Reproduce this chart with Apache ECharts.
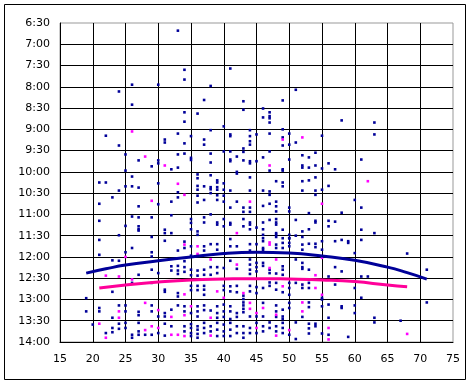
<!DOCTYPE html>
<html>
<head>
<meta charset="utf-8">
<script src="https://cdn.jsdelivr.net/npm/echarts@6/dist/echarts.min.js"></script>
<style>
html,body{margin:0;padding:0;background:#fff;}
#chart{width:476px;height:385px;}
</style>
</head>
<body>
<div id="chart"></div>
<script>
// x ticks (age) and y ticks (time of day, hours)
const xTicks = [15, 20, 25, 30, 35, 40, 45, 50, 55, 60, 65, 70, 75];
const yTickLabels = ["6:30","7:00","7:30","8:00","8:30","9:00","9:30","10:00","10:30","11:00","11:30","12:00","12:30","13:00","13:30","14:00"];

// blue points [x, time in hours]
const bluePoints = [
[33,6.68],[34,7.6],[41,7.57],[34,7.83],[26,7.95],[30,7.95],[38,7.98],[24,8.11],[37,8.31],[43,8.34],[26,8.42],[43,8.54],[34,8.6],[36,8.63],[34,8.82],[40,8.93],[38,9.02],[44,9.02],[22,9.15],[33,9.1],[35,9.16],[41,9.12],[41,9.16],[45,9.12],[44,9.16],[31,9.24],[31,9.31],[37,9.24],[34,9.33],[37,9.36],[44,9.28],[44,9.36],[24,9.38],[43,9.45],[40,9.52],[41,9.52],[43,9.53],[38,9.57],[33,9.59],[34,9.57],[25,9.59],[35,9.67],[35,9.72],[42,9.64],[41,9.71],[41,9.75],[43,9.73],[44,9.75],[44,9.8],[45,9.75],[27,9.73],[30,9.73],[30,9.8],[38,9.78],[29,9.87],[33,9.9],[32,9.94],[25,9.97],[42,10.0],[42,10.04],[36,10.06],[36,10.15],[38,10.08],[26,10.11],[44,10.13],[39,10.2],[39,10.25],[21,10.25],[22,10.25],[30,10.27],[40,10.27],
[51,8.07],[49,8.32],[46,8.51],[47,8.6],[46,8.72],[47,8.69],[47,8.74],[47,8.84],[58,8.79],[63,8.84],[63,9.12],[49,9.0],[47,9.1],[50,9.1],[49,9.19],[55,9.15],[49,9.38],[50,9.36],[51,9.31],[47,9.52],[46,9.66],[52,9.61],[53,9.66],[54,9.55],[50,9.71],[47,9.97],[49,9.94],[49,9.97],[52,9.85],[52,9.9],[53,9.9],[54,9.85],[55,9.92],[56,9.8],[57,9.94],[61,9.71],[54,10.13],[48,10.22],[49,10.25],[52,10.22],[53,10.2],
[25,10.34],[26,10.34],[27,10.37],[24,10.44],[36,10.33],[36,10.42],[37,10.34],[38,10.36],[38,10.41],[39,10.36],[39,10.42],[40,10.42],[40,10.56],[41,10.44],[44,10.44],[33,10.48],[23,10.6],[36,10.56],[37,10.66],[38,10.5],[39,10.55],[39,10.66],[30,10.76],[32,10.7],[33,10.6],[36,10.72],[40,10.7],[42,10.7],[44,10.84],[44,10.94],[43,10.84],[41,10.84],[21,10.75],[27,10.81],[43,10.94],
[21,11.15],[26,11.05],[27,11.07],[27,11.28],[27,11.35],[27,11.38],[25,11.27],[24,11.49],[29,11.07],[31,11.36],[31,11.44],[32,11.02],[32,11.44],[35,11.11],[35,11.2],[35,11.35],[36,11.4],[36,11.48],[37,11.07],[37,11.19],[38,11.0],[39,11.19],[39,11.24],[40,11.11],[40,11.28],[41,11.2],[41,11.24],[43,11.11],[43,11.28],[44,11.19],[44,11.24],[44,11.35],[45,11.31],
[21,11.6],[21,11.95],[25,11.89],[26,11.79],[29,11.53],[29,11.89],[29,11.99],[31,11.62],[33,11.85],[34,11.64],[34,11.79],[35,11.75],[35,11.97],[37,11.75],[37,11.85],[38,11.7],[39,11.7],[39,11.83],[41,11.58],[41,11.75],[42,11.75],[44,11.7],[44,11.85],[45,11.7],
[23,12.08],[24,12.09],[27,12.42],[29,12.3],[30,12.38],[32,12.22],[32,12.32],[33,12.21],[33,12.32],[33,12.4],[34,12.1],[34,12.24],[34,12.35],[35,12.3],[35,12.43],[36,12.32],[36,12.44],[37,12.3],[37,12.42],[38,12.24],[38,12.42],[39,12.24],[39,12.38],[40,12.26],[41,12.09],[42,12.28],[44,12.06],[44,12.18],[44,12.3],[44,12.4],[45,12.14],[45,12.24],[45,12.34],
[26,12.61],[23,12.82],[29,12.61],[31,12.77],[31,12.82],[33,12.85],[33,12.93],[35,12.68],[35,12.78],[36,12.68],[36,12.78],[37,12.68],[37,12.77],[37,12.89],[40,12.68],[40,12.78],[41,12.69],[41,12.81],[42,12.68],[42,12.83],[43,12.91],[43,12.99],[44,12.68],[44,12.81],[45,12.71],[45,12.85],[19,12.97],
[19,13.28],[21,13.2],[21,13.28],[24,13.14],[23,13.43],[25,13.14],[25,13.28],[27,13.29],[27,13.37],[29,13.14],[29,13.28],[30,13.4],[31,13.32],[31,13.4],[32,13.24],[33,13.14],[34,13.16],[34,13.28],[35,13.32],[36,13.16],[36,13.28],[36,13.4],[37,13.14],[37,13.25],[38,13.26],[39,13.16],[39,13.32],[39,13.43],[40,13.12],[40,13.28],[40,13.41],[41,13.16],[41,13.28],[41,13.46],[42,13.32],[42,13.41],[43,13.07],[43,13.14],[43,13.22],[43,13.3],[44,13.4],[45,13.4],
[20,13.59],[22,13.79],[23,13.67],[23,13.77],[24,13.57],[24,13.69],[25,13.55],[25,13.67],[26,13.83],[26,13.9],[27,13.55],[27,13.75],[27,13.83],[28,13.83],[29,13.83],[30,13.79],[31,13.57],[31,13.85],[32,13.63],[34,13.63],[34,13.75],[35,13.58],[35,13.67],[35,13.79],[35,13.86],[36,13.63],[36,13.71],[36,13.81],[36,13.9],[37,13.55],[37,13.67],[37,13.79],[38,13.63],[38,13.75],[39,13.55],[39,13.71],[39,13.86],[40,13.59],[40,13.75],[40,13.86],[41,13.55],[41,13.71],[41,13.86],[42,13.63],[42,13.79],[43,13.63],[43,13.79],[43,13.9],[44,13.67],[44,13.79],[45,13.55],[45,13.79],
[46,10.44],[47,10.46],[47,10.54],[49,10.34],[52,10.44],[54,10.44],[54,10.54],[55,10.42],[56,10.33],[48,10.7],[48,10.81],[47,10.75],[46,10.8],[50,10.84],[50,10.93],[53,10.97],[58,10.96],[60,10.66],[61,10.84],[48,10.93],
[46,11.19],[47,11.13],[48,11.11],[48,11.19],[48,11.24],[51,11.13],[52,11.4],[53,11.35],[54,11.15],[54,11.19],[56,11.15],[56,11.28],[57,11.17],[46,11.35],[46,11.48],[46,11.56],[48,11.44],[48,11.48],[49,11.36],[50,11.48],[50,11.56],[51,11.5],
[46,11.63],[48,11.53],[48,11.71],[49,11.56],[49,11.67],[49,11.79],[50,11.56],[50,11.67],[50,11.75],[52,11.53],[52,11.71],[52,11.83],[53,11.69],[54,11.69],[54,11.77],[55,11.63],[55,11.83],[57,11.63],[58,11.6],[59,11.63],[59,11.67],[61,11.36],[61,11.6],[63,11.44],[68,11.92],[46,11.79],[46,11.83],[48,11.79],
[46,12.14],[46,12.21],[47,12.3],[47,12.38],[48,12.39],[49,12.22],[49,12.3],[49,12.42],[51,12.06],[52,12.14],[52,12.24],[52,12.28],[53,12.3],[56,12.46],[57,12.24],[58,12.34],[61,12.46],[62,12.46],[71,12.3],[60,11.91],
[47,12.6],[47,12.68],[46,12.73],[48,12.61],[48,12.77],[49,12.83],[50,12.61],[50,12.73],[50,12.89],[51,12.61],[52,12.65],[52,12.73],[53,12.61],[53,12.73],[55,12.96],[57,12.65],[60,12.73],[61,12.96],[71,13.07],
[46,13.08],[48,13.14],[48,13.28],[48,13.41],[49,13.24],[49,13.4],[49,13.46],[50,13.08],[50,13.2],[52,13.41],[53,13.07],[53,13.18],[55,13.0],[55,13.16],[56,13.12],[56,13.43],[58,13.16],[58,13.2],[60,13.14],[60,13.32],[63,13.43],[46,13.4],
[46,13.63],[46,13.75],[47,13.54],[47,13.67],[48,13.63],[48,13.75],[49,13.55],[49,13.67],[49,13.79],[50,13.83],[51,13.54],[51,13.93],[53,13.57],[53,13.68],[53,13.8],[54,13.57],[54,13.63],[55,13.8],[56,13.83],[59,13.88],[63,13.54],[67,13.5]
];

// magenta points [x, time in hours]
const magentaPoints = [
[26,9.05],[28,9.64],[31,9.85],[33,10.28],
[49,9.24],[52,9.19],[47,9.85],[62,10.22],
[34,10.54],[29,10.68],[44,10.7],[42,11.44],[25,12.0],[34,11.71],[36,11.75],[36,11.93],[22,12.44],[24,12.46],[38,12.06],[42,12.18],[26,12.53],[34,12.88],[39,12.81],[40,12.96],[43,12.85],[24,13.28],[24,13.43],[28,13.08],[30,13.25],[32,13.41],[34,13.37],[35,13.16],[38,13.43],[44,13.08],[44,13.22],[45,13.32],[21,13.57],[22,13.9],[28,13.72],[29,13.63],[30,13.67],[32,13.83],[33,13.83],[34,13.86],[38,13.85],[45,13.67],
[55,10.75],[48,12.06],[47,12.26],[54,12.43],[55,12.02],[49,12.69],[54,12.73],[55,12.89],[46,13.2],[48,13.36],[52,13.07],[52,13.28],[48,13.85],[50,13.72],[56,13.67],[56,13.94],[68,13.81],[47,11.66],[47,11.71]
];

// trend curves
const blueTrend = [[19,12.38],[22,12.28],[25,12.19],[30,12.09],[35,12.0],[40,11.92],[45,11.89],[50,11.91],[55,11.98],[60,12.08],[65,12.24],[68,12.37],[71,12.52]];
const magentaTrend = [[21,12.73],[25,12.66],[30,12.59],[35,12.54],[40,12.52],[45,12.51],[50,12.52],[55,12.54],[60,12.58],[65,12.66],[68,12.70]];

const FONT = "DejaVu Sans";
const xMin = xTicks[0], xMax = xTicks[xTicks.length - 1];
const yMin = 6.5, yMax = 14;

const chart = echarts.init(document.getElementById('chart'), null, {renderer: 'canvas'});
chart.setOption({
  backgroundColor: '#ffffff',
  animation: false,
  graphic: [{
    type: 'rect', z: -1,
    shape: {x: 4.5, y: 4.5, width: 461, height: 375},
    style: {fill: 'none', stroke: '#000', lineWidth: 1}
  }],
  grid: {left: 60, right: 23, top: 23, bottom: 43, containLabel: false,
         show: true, borderColor: '#999999', borderWidth: 1, backgroundColor: 'transparent'},
  xAxis: {
    type: 'value', min: xMin, max: xMax, interval: 5,
    axisLine: {show: true, onZero: false, lineStyle: {color: '#000', width: 1}},
    axisTick: {show: false},
    axisLabel: {color: '#000', fontFamily: FONT, fontSize: 11, margin: 12},
    splitLine: {show: true, showMaxLine: false, showMinLine: false, lineStyle: {color: '#000000', width: 1, opacity: 1}}
  },
  yAxis: {
    type: 'value', min: yMin, max: yMax, interval: 0.5, inverse: true,
    axisLine: {show: true, onZero: false, lineStyle: {color: '#000', width: 1}},
    axisTick: {show: false},
    axisLabel: {
      color: '#000', fontFamily: FONT, fontSize: 11, margin: 10,
      formatter: v => yTickLabels[Math.round((v - yMin) / 0.5)]
    },
    splitLine: {show: true, showMinLine: false, showMaxLine: false, lineStyle: {color: '#000000', width: 1, opacity: 1}}
  },
  series: [
    {type: 'scatter', data: bluePoints, symbol: 'rect', symbolSize: 2.6, itemStyle: {color: '#000099', opacity: 1}, z: 2},
    {type: 'scatter', data: magentaPoints, symbol: 'rect', symbolSize: 2.6, itemStyle: {color: '#ff00ff', opacity: 1}, z: 3},
    {type: 'line', data: blueTrend, smooth: true, showSymbol: false, lineStyle: {color: '#000099', width: 3}, z: 4},
    {type: 'line', data: magentaTrend, smooth: true, showSymbol: false, lineStyle: {color: '#ff0099', width: 3}, z: 4}
  ]
});
</script>
</body>
</html>
